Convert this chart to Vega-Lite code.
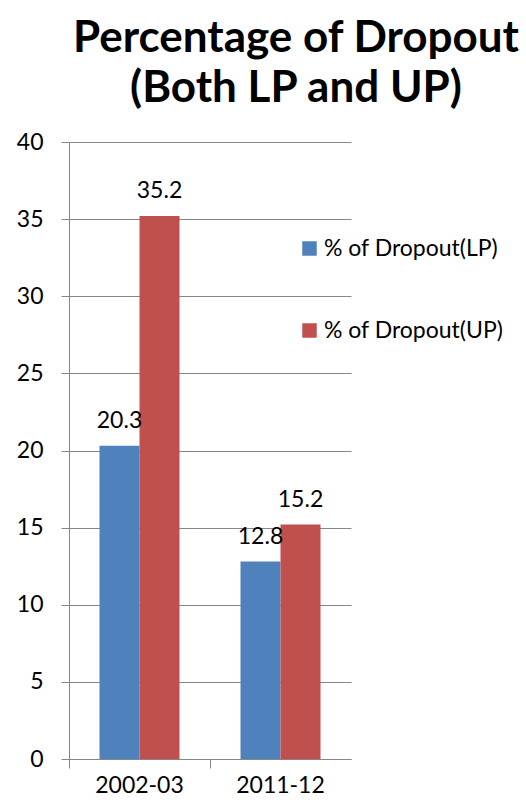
{
  "$schema": "https://vega.github.io/schema/vega-lite/v6.json",
  "width": 282,
  "height": 617,
  "autosize": "none",
  "padding": {"left": 69, "top": 142, "right": 175, "bottom": 47},
  "background": "white",
  "title": {
    "text": ["Percentage of Dropout", "(Both LP and UP)"],
    "font": "Lato",
    "fontWeight": "bold",
    "fontSize": 44,
    "color": "black",
    "anchor": "middle",
    "frame": "group",
    "dx": 86,
    "offset": 20,
    "lineHeight": 50
  },
  "data": {
    "values": [
      {"year": "2002-03", "series": "% of Dropout(LP)", "value": 20.3},
      {"year": "2002-03", "series": "% of Dropout(UP)", "value": 35.2},
      {"year": "2011-12", "series": "% of Dropout(LP)", "value": 12.8},
      {"year": "2011-12", "series": "% of Dropout(UP)", "value": 15.2}
    ]
  },
  "encoding": {
    "x": {
      "field": "year",
      "type": "nominal",
      "scale": {"paddingInner": 0, "paddingOuter": 0},
      "axis": {
        "title": null,
        "labelAngle": 0,
        "bandPosition": 0,
        "labelFont": "Lato",
        "labelFontSize": 23,
        "labelColor": "black",
        "labelPadding": 6,
        "tickSize": 9,
        "tickColor": "#868686",
        "domainColor": "#868686",
        "grid": false
      }
    },
    "xOffset": {
      "field": "series",
      "type": "nominal",
      "scale": {"paddingInner": 0, "paddingOuter": 0.7625}
    },
    "y": {
      "field": "value",
      "type": "quantitative",
      "scale": {"domain": [0, 40], "nice": false},
      "axis": {
        "title": null,
        "values": [0, 5, 10, 15, 20, 25, 30, 35, 40],
        "labelFont": "Lato",
        "labelFontSize": 23,
        "labelColor": "black",
        "labelPadding": 18,
        "tickSize": 8,
        "tickColor": "#868686",
        "domainColor": "#868686",
        "gridColor": "#868686",
        "gridOpacity": 1,
        "grid": true
      }
    }
  },
  "layer": [
    {
      "mark": {"type": "bar"},
      "encoding": {
        "color": {
          "field": "series",
          "type": "nominal",
          "scale": {"range": ["#4F81BD", "#C0504D"]},
          "legend": {
            "title": null,
            "orient": "none",
            "legendX": 229,
            "legendY": 95,
            "padding": 0,
            "symbolType": "square",
            "symbolSize": 210,
            "symbolStrokeWidth": 0,
            "labelFont": "Lato",
            "labelFontSize": 23,
            "labelLimit": 0,
            "labelColor": "black",
            "labelOffset": 3,
            "rowPadding": 58
          }
        }
      }
    },
    {
      "mark": {"type": "text", "baseline": "alphabetic", "dy": -18, "font": "Lato", "fontSize": 23, "color": "black"},
      "encoding": {
        "text": {"field": "value", "type": "quantitative", "format": ".1f"}
      }
    }
  ],
  "config": {"view": {"stroke": null}}
}
